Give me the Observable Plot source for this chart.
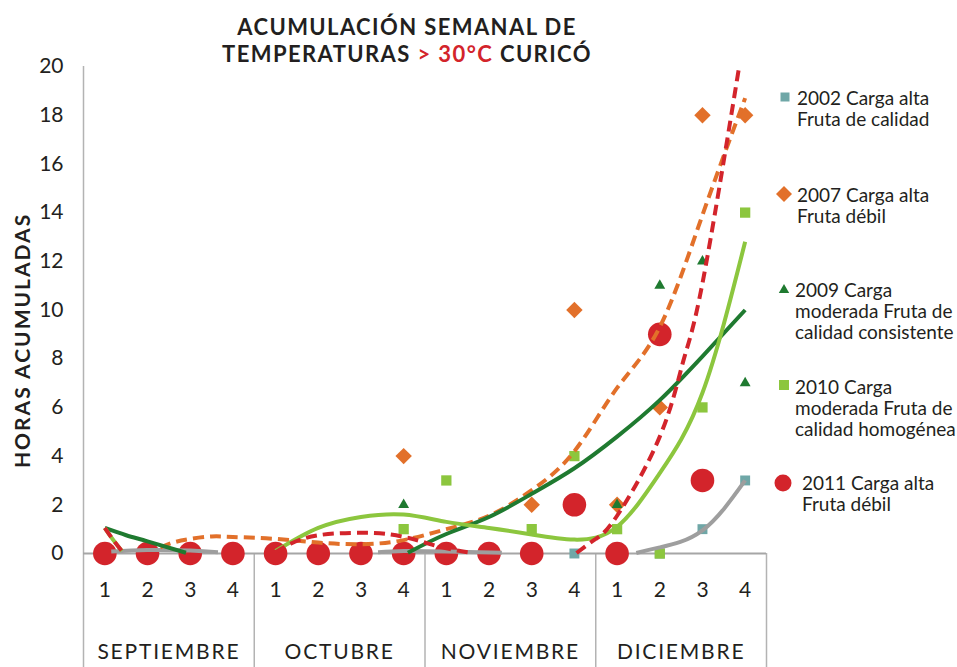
<!DOCTYPE html>
<html>
<head>
<meta charset="utf-8">
<script src="https://cdn.jsdelivr.net/npm/d3@7"></script>
<script src="https://cdn.jsdelivr.net/npm/@observablehq/plot@0.6"></script>
<style>
  body { margin: 0; background: #fff; }
  #wrap { position: relative; width: 957px; height: 667px; font-family: Lato, "Open Sans", sans-serif; }
  #title { position: absolute; top: 13px; left: 0; width: 814px; text-align: center; font-weight: 700; font-size: 22px; line-height: 27px; letter-spacing: 1.4px; color: #231f20; }
  #title .red { color: #d3242b; }
  .leg { position: absolute; font-size: 19px; line-height: 21px; color: #231f20; white-space: nowrap; }
  .legm { position: absolute; }
</style>
</head>
<body>
<div id="wrap">
  <div id="chart"></div>
  <div id="title">ACUMULACIÓN SEMANAL DE<br>TEMPERATURAS <span class="red">&gt; 30°C</span> CURICÓ</div>
  <div id="legend"></div>
</div>
<script>
// ---- categories ----
const weekPos = [1,2,3,4,5,6,7,8,9,10,11,12,13,14,15,16];
const weekLabels = ["1","2","3","4","1","2","3","4","1","2","3","4","1","2","3","4"];
const months = ["SEPTIEMBRE","OCTUBRE","NOVIEMBRE","DICIEMBRE"];
const yTicks = [0,2,4,6,8,10,12,14,16,18,20];

// ---- series values (hours per week) ----
const v2002 = [0,0,0,0, 0,0,0,0, 0,0,0,0, 0,0,1,3];
const v2007 = [0,0,0,0, 0,0,0,4, 0,0,2,10, 2,6,18,18];
const v2009 = [0,0,0,0, 0,0,0,2, 0,0,0,null, 2,11,12,7];
const v2010 = [0,0,0,0, 0,0,0,1, 3,0,1,4, 1,0,6,14];
const v2011 = [0,0,0,0, 0,0,0,0, 0,0,0,2, 0,9,3,null];

// ---- trend lines: [week position, value] per segment ----
const t2002 = [
  [[1.15,0.08],[2,0.14],[3,0.12],[3.65,0.05]],
  [[7.4,0.05],[8,0.1],[9,0.08],[10.3,0.03]],
  [[13.45,0.02],[14,0.25],[15,0.95],[16,3.0]]
];
const t2007 = [
  [[2.3,0.25],[2.6,0.45],[3,0.6],[3.5,0.7],[4,0.68],[5,0.6],[6,0.45],[7,0.38],[8,0.55],[9,1.0],[10,1.55],[11,2.6],[12,4.2],[13,6.8],[14,9.3],[15,13.9],[16,18.7]]
];
const t2009 = [
  [[1,1.05],[1.5,0.75],[2,0.5],[2.9,0.03]],
  [[8.1,0.03],[9,0.8],[10,1.5],[11,2.45],[12,3.5],[13,4.8],[14,6.3],[15,8.1],[16,10.0]]
];
const t2010 = [
  [[1,1.05],[1.2,0.55],[1.4,0.1]],
  [[5,0.1],[6,1.05],[7,1.5],[8,1.6],[9,1.3],[10,1.05],[11,0.78],[12,0.57],[13,1.1],[14,3.3],[15,6.6],[16,12.8]]
];
const t2011 = [
  [[1,1.05],[1.2,0.55],[1.4,0.1]],
  [[5,0.05],[5.35,0.4],[6,0.75],[7,0.85],[7.7,0.78],[8.3,0.55],[8.9,0.25],[9.5,0.05]],
  [[12.05,0.02],[12.5,0.6],[13,1.55],[14,4.8],[14.55,7.9],[15,11.1],[15.86,20]]
];

// ---- legend labels ----
const legendLabels = [
  ["2002 Carga alta","Fruta de calidad"],
  ["2007 Carga alta","Fruta débil"],
  ["2009 Carga","moderada Fruta de","calidad consistente"],
  ["2010 Carga","moderada Fruta de","calidad homogénea"],
  ["2011 Carga alta","Fruta débil"]
];

const series = [
  {values: v2002, trend: t2002, color: "#6fa7a7", symbol: "square", r: 5.6, line: "#9e9e9e", dash: null},
  {values: v2007, trend: t2007, color: "#e2702a", symbol: "diamond2", r: 7.4, line: "#e2702a", dash: "11,6"},
  {values: v2009, trend: t2009, color: "#1f7a30", symbol: "triangle2", r: 5.2, line: "#1f7a30", dash: null},
  {values: v2010, trend: t2010, color: "#8cc63e", symbol: "square", r: 5.8, line: "#8cc63e", dash: null},
  {values: v2011, trend: t2011, color: "#d3242b", symbol: "circle", r: 11.8, line: "#d3242b", dash: "11,6"}
];

const pointMarks = series.map(s => Plot.dot(
  weekPos.map((w, i) => ({w, v: s.values[i]})).filter(d => d.v != null),
  {x: "w", y: "v", symbol: () => s.symbol, r: s.r, fill: s.color, stroke: "none"}
));

const lineMarks = series.map(s => Plot.line(
  s.trend.flatMap((seg, k) => seg.map(([w, v]) => ({w, v, k}))),
  {x: "w", y: "v", z: "k", stroke: s.line, strokeWidth: 4, curve: "natural",
   strokeDasharray: s.dash, strokeLinecap: "butt"}
));

const chart = Plot.plot({
  width: 957, height: 667,
  marginLeft: 83, marginRight: 191, marginTop: 66, marginBottom: 114,
  x: {domain: [0.5, 16.5], axis: null},
  y: {domain: [0, 20], axis: null},
  symbol: {type: "identity"},
  style: {fontFamily: "Lato, 'Open Sans', sans-serif", background: "#fff", color: "#231f20", overflow: "visible"},
  marks: [
    Plot.ruleX([0.5], {y1: -4.75, y2: 20, stroke: "#b3b3b3", strokeWidth: 1.5}),
    Plot.ruleX([4.5, 8.5, 12.5, 16.5], {y1: 0, y2: -4.75, stroke: "#b3b3b3", strokeWidth: 1.5}),
    Plot.ruleY([0], {x1: 0.5, x2: 16.5, stroke: "#a6a6a6", strokeWidth: 2}),
    Plot.axisY(yTicks, {tickSize: 0, tickPadding: 20, fontSize: 21, label: null, fill: "#231f20"}),
    Plot.text(weekPos, {x: d => d, y: -1.5, text: (d, i) => weekLabels[i], fontSize: 21, fill: "#231f20"}),
    Plot.text(months, {x: (d, i) => 2.5 + 4 * i, y: -4.07, text: d => d, fontSize: 21, fill: "#231f20"}),
    Plot.text(["HORAS ACUMULADAS"], {x: 0.5, y: 8.75, dx: -60, rotate: -90, fontSize: 21, fontWeight: "bold", fill: "#231f20"}),
    ...pointMarks,
    ...lineMarks
  ]
});
document.getElementById("chart").appendChild(chart);

// wider lettering like the original typeface
d3.select(chart).selectAll("text")
  .filter(function () { return months.includes(this.textContent); })
  .style("letter-spacing", "1.8px");
d3.select(chart).selectAll("text")
  .filter(function () { return this.textContent === "HORAS ACUMULADAS"; })
  .style("letter-spacing", "2px");

// ---- legend ----
const legPos = [
  {mx: 785, my: 97, tx: 797, ty: 97},
  {mx: 784, my: 194, tx: 797, ty: 194},
  {mx: 784, my: 290, tx: 795, ty: 289},
  {mx: 784, my: 385, tx: 795, ty: 386},
  {mx: 783, my: 483, tx: 802, ty: 482}
];
const legSizes = [4.5, 8, 6, 5, 8.5];
const legend = document.getElementById("legend");
series.forEach((s, i) => {
  const p = legPos[i];
  const sz = 24;
  const svg = d3.create("svg").attr("class", "legm").attr("width", sz).attr("height", sz)
    .style("left", (p.mx - sz / 2) + "px").style("top", (p.my - sz / 2) + "px");
  const symMap = {square: d3.symbolSquare2, diamond2: d3.symbolDiamond2, triangle2: d3.symbolTriangle2, circle: d3.symbolCircle};
  const h = legSizes[i];
  let area;
  if (s.symbol === "square") area = Math.pow(h / 0.4431, 2);
  else if (s.symbol === "diamond2") area = Math.pow(h / 0.62625, 2);
  else if (s.symbol === "triangle2") area = Math.pow(h / 0.6824, 2);
  else area = Math.PI * h * h;
  svg.append("path").attr("transform", `translate(${sz / 2},${sz / 2})`)
    .attr("d", d3.symbol(symMap[s.symbol], area)()).attr("fill", s.color);
  legend.appendChild(svg.node());
  const div = document.createElement("div");
  div.className = "leg";
  div.style.left = p.tx + "px";
  div.style.top = (p.ty - 10.5) + "px";
  div.innerHTML = legendLabels[i].join("<br>");
  legend.appendChild(div);
});
</script>
</body>
</html>
